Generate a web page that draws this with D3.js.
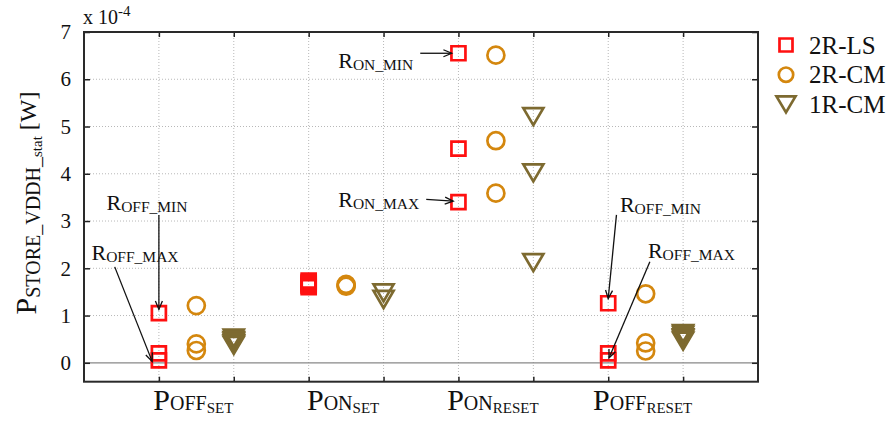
<!DOCTYPE html>
<html>
<head>
<meta charset="utf-8">
<script src="https://cdn.jsdelivr.net/npm/d3@7"></script>
<style>
  html, body { margin: 0; padding: 0; background: #fff; }
  svg { display: block; }
  text { font-family: "Liberation Serif", "Times New Roman", serif; fill: #111; }
</style>
</head>
<body>
<svg id="chart" width="891" height="421"></svg>
<script>
// ---------- data ----------
const categories = ["OFF_SET", "ON_SET", "ON_RESET", "OFF_RESET"];
const labelMain = ["P", "P", "P", "P"];
const labelSub = ["OFF", "ON", "ON", "OFF"];
const labelSubSub = ["SET", "SET", "RESET", "RESET"];

const seriesNames = ["2R-LS", "2R-CM", "1R-CM"];

// values in units of 1e-4 W, one list per category
const values2RLS = [
  [1.05, 0.20, 0.05],
  [1.74, 1.71, 1.68, 1.66, 1.63, 1.60],
  [6.55, 4.53, 3.40],
  [1.26, 0.20, 0.05]
];
const values2RCM = [
  [1.21, 0.40, 0.26],
  [1.66, 1.64, 1.62],
  [6.51, 4.70, 3.59],
  [1.46, 0.42, 0.25]
];
const values1RCM = [
  [0.52, 0.47, 0.44, 0.40, 0.37],
  [1.48, 1.34],
  [5.21, 4.02, 2.12],
  [0.62, 0.58, 0.53, 0.50, 0.46]
];

const yTicks = [0, 1, 2, 3, 4, 5, 6, 7];
const xTicks = [1, 2, 3, 4, 5, 6, 7, 8];

// annotations (data coordinates)
const annoSub = ["OFF_MIN", "OFF_MAX", "ON_MIN", "ON_MAX", "OFF_MIN", "OFF_MAX"];
const annoText = [[0.30, 3.23], [0.10, 2.18], [3.395, 6.24], [3.395, 3.30], [7.156, 3.20], [7.53, 2.21]];
const annoFrom = [[1.00, 3.13], [0.41, 2.03], [4.49, 6.55], [4.57, 3.46], [7.11, 3.13], [7.556, 2.14]];
const annoTo   = [[1.00, 1.13], [0.91, 0.03], [4.91, 6.55], [4.93, 3.42], [7.00, 1.36], [7.01, 0.10]];

// ---------- layout ----------
const svg = d3.select("#chart");
const mLeft = 84, mRight = 758, mTop = 32, mBottom = 381.7;
const colors = { "2R-LS": "#ff1010", "2R-CM": "#d4870e", "1R-CM": "#7d6a30" };
const FONT = '"Liberation Serif", "Times New Roman", serif';

const x = d3.scaleLinear().domain([0, 9]).range([mLeft, mRight]);
const y = d3.scaleLinear().domain([-0.4, 7]).range([mBottom, mTop]);

const band = d3.scaleBand().domain(categories).range([x(0.5), x(8.5)]).paddingInner(0).paddingOuter(0);
const sub = d3.scalePoint().domain(seriesNames).range([band.bandwidth() * 0.25, band.bandwidth() * 0.75]);

// ---------- grid ----------
const grid = svg.append("g");
grid.selectAll(".vg").data(xTicks).join("line")
  .attr("x1", d => x(d)).attr("x2", d => x(d))
  .attr("y1", mTop).attr("y2", mBottom)
  .attr("stroke", "#b8b8b8").attr("stroke-width", 1).attr("stroke-dasharray", "1,2");
grid.selectAll(".hg").data(yTicks.filter(d => d !== 0 && d !== 7)).join("line")
  .attr("x1", mLeft).attr("x2", mRight)
  .attr("y1", d => y(d)).attr("y2", d => y(d))
  .attr("stroke", "#b8b8b8").attr("stroke-width", 1).attr("stroke-dasharray", "1,2");
// zero line
svg.append("line")
  .attr("x1", mLeft).attr("x2", mRight).attr("y1", y(0)).attr("y2", y(0))
  .attr("stroke", "#888").attr("stroke-width", 1.3);

// ---------- axes ----------
const axL = svg.append("g").attr("transform", `translate(${mLeft},0)`)
  .call(d3.axisLeft(y).tickValues(yTicks).tickSize(-6).tickPadding(13).tickFormat(d3.format("d")));
const axR = svg.append("g").attr("transform", `translate(${mRight},0)`)
  .call(d3.axisRight(y).tickValues(yTicks).tickSize(-6).tickFormat(""));
const axT = svg.append("g").attr("transform", `translate(0,${mTop})`)
  .call(d3.axisTop(x).tickValues(xTicks).tickSize(-5).tickFormat(""));
const axB = svg.append("g").attr("transform", `translate(0,${mBottom})`)
  .call(d3.axisBottom(x).tickValues(xTicks).tickSize(-5).tickFormat(""));
[axL, axR, axT, axB].forEach(a => {
  a.select(".domain").remove();
  a.selectAll(".tick line").attr("stroke", "#222").attr("stroke-width", 1.5);
});
axL.selectAll(".tick text").attr("font-size", 21).attr("font-family", FONT).attr("fill", "#111");

// frame
svg.append("rect").attr("x", mLeft).attr("y", mTop)
  .attr("width", mRight - mLeft).attr("height", mBottom - mTop)
  .attr("fill", "none").attr("stroke", "#2a2a2a").attr("stroke-width", 2);

// exponent label
const exp = svg.append("text").attr("x", mLeft - 1).attr("y", 24).attr("font-size", 20);
exp.append("tspan").text("x 10");
exp.append("tspan").attr("font-size", 15).attr("dy", -8).text("-4");

// ---------- markers ----------
function markerPath(kind, s) {
  if (kind === "2R-LS") return `M${-s.sq},${-s.sq}H${s.sq}V${s.sq}H${-s.sq}Z`;
  if (kind === "2R-CM") return `M${s.r},0A${s.r},${s.r} 0 1,1 ${-s.r},0A${s.r},${s.r} 0 1,1 ${s.r},0Z`;
  return `M${-s.tw},${-s.th}L${s.tw},${-s.th}L0,${s.th}Z`;
}
const plotSize = { sq: 7, r: 8.5, tw: 10, th: 8.5 };

const seriesValues = { "2R-LS": values2RLS, "2R-CM": values2RCM, "1R-CM": values1RCM };
const points = [];
seriesNames.forEach(s => {
  categories.forEach((c, i) => {
    seriesValues[s][i].forEach(v => points.push({ s, c, v }));
  });
});
svg.append("g").selectAll("path").data(points).join("path")
  .attr("transform", d => `translate(${band(d.c) + sub(d.s)},${y(d.v)})`)
  .attr("d", d => markerPath(d.s, plotSize))
  .attr("fill", "none")
  .attr("stroke", d => colors[d.s])
  .attr("stroke-width", 2.7);

// ---------- x category labels ----------
const xl = svg.append("g").selectAll("text").data(categories).join("text")
  .attr("x", d => band(d) + band.bandwidth() / 2 - 3)
  .attr("y", 410)
  .attr("text-anchor", "middle");
xl.append("tspan").attr("font-size", 30).text((d, i) => labelMain[i]);
xl.append("tspan").attr("font-size", 20).text((d, i) => labelSub[i]);
xl.append("tspan").attr("font-size", 15).attr("dy", 3).text((d, i) => labelSubSub[i]);

// ---------- y label ----------
const yl = svg.append("text").attr("transform", "translate(36,203) rotate(-90)").attr("text-anchor", "middle");
yl.append("tspan").attr("font-size", 30).text("P");
yl.append("tspan").attr("font-size", 20).attr("dy", 4).text("STORE_VDDH_");
yl.append("tspan").attr("font-size", 15).attr("dy", 2).text("stat");
yl.append("tspan").attr("font-size", 24).attr("dy", -6).text(" [W]");

// ---------- annotations ----------
const ann = svg.append("g");
annoSub.forEach((s, i) => {
  const t = ann.append("text").attr("x", x(annoText[i][0])).attr("y", y(annoText[i][1]));
  t.append("tspan").attr("font-size", 22).text("R");
  t.append("tspan").attr("font-size", 15.5).attr("dy", 2).text(s);
  const x1 = x(annoFrom[i][0]), y1 = y(annoFrom[i][1]);
  const x2 = x(annoTo[i][0]), y2 = y(annoTo[i][1]);
  ann.append("line").attr("x1", x1).attr("y1", y1).attr("x2", x2).attr("y2", y2)
    .attr("stroke", "#111").attr("stroke-width", 1.3);
  const ang = Math.atan2(y2 - y1, x2 - x1);
  const L = 9, a = 0.4;
  const p1 = [x2 - L * Math.cos(ang - a), y2 - L * Math.sin(ang - a)];
  const p2 = [x2 - L * Math.cos(ang + a), y2 - L * Math.sin(ang + a)];
  ann.append("path").attr("d", `M${p1}L${x2},${y2}L${p2}`)
    .attr("fill", "none").attr("stroke", "#111").attr("stroke-width", 1.3);
});

// ---------- legend ----------
const legendSize = { sq: 6.5, r: 7.2, tw: 9.5, th: 8 };
const leg = svg.append("g").selectAll("g").data(seriesNames).join("g")
  .attr("transform", (d, i) => `translate(786,${45 + i * 29.7})`);
leg.append("path").attr("d", d => markerPath(d, legendSize))
  .attr("fill", "none").attr("stroke", d => colors[d]).attr("stroke-width", 2.7);
leg.append("text").attr("x", 23).attr("y", 8.5).attr("font-size", 25).text(d => d);
</script>
</body>
</html>
